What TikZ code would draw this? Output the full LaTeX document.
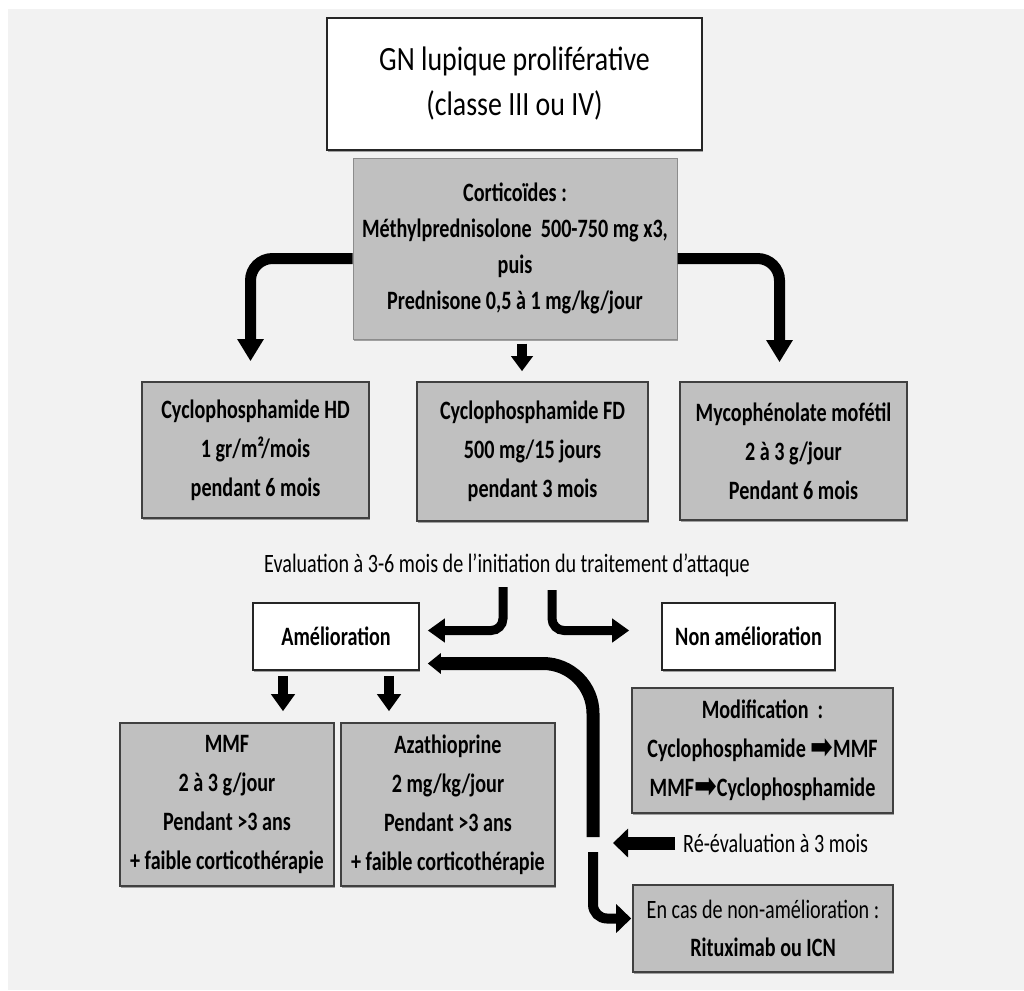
\documentclass[tikz,border=0pt]{standalone}
\usepackage{fontspec}
\setmainfont{Carlito}[FakeStretch=0.76]
\newfontfamily\topfont{Carlito}[FakeStretch=0.82]
\newfontfamily\djv{DejaVu Sans}[FakeStretch=0.8]
\usetikzlibrary{arrows.meta,shadows}
\definecolor{bg}{HTML}{F2F2F2}
\definecolor{boxgray}{HTML}{C0C0C0}
\newcommand{\bigarr}{{\djv\fontsize{34}{34}\selectfont\raisebox{-1pt}{➡}}}
\begin{document}
\begin{tikzpicture}[x=1pt,y=-1pt,
  shd/.style={drop shadow={shadow xshift=0.6pt, shadow yshift=-1.6pt, fill=black!45, opacity=0.8}},
  wbox/.style={draw=black!85, line width=1.6pt, fill=white, inner sep=0pt, align=center, shd},
  gbox/.style={draw=black!75, line width=1.6pt, fill=boxgray, inner sep=0pt, align=center, shd,
               font=\bfseries\fontsize{26.5}{39}\selectfont},
  plain/.style={inner sep=0pt, font=\fontsize{26.5}{30}\selectfont},
  fat/.style={line width=#1, draw=black},
  tipL/.style={-{Triangle[width=25pt,length=22pt]}},
  tipS/.style={-{Triangle[width=21pt,length=15pt]}},
  tipM/.style={-{Triangle[width=23pt,length=17pt]}},
  tipR/.style={-{Triangle[width=20pt,length=13pt]}},
  tipB/.style={-{Triangle[width=28pt,length=15pt]}}
]
\useasboundingbox (0,0) rectangle (1024,990);
\fill[white] (0,0) rectangle (1024,990);
\fill[bg] (8,9) rectangle (1024,990);

% nodes
\node[wbox, minimum width=375pt, minimum height=132pt,
      font=\topfont\fontsize{34}{45}\selectfont] (top) at (514.5,84)
  {GN lupique proliférative\\(classe III ou IV)};
\node[gbox, draw=black!45, line width=1pt, minimum width=324pt, minimum height=181pt,
      font=\bfseries\fontsize{26.5}{36}\selectfont] (cortico) at (515,248.5)
  {Corticoïdes :\\Méthylprednisolone~ 500-750 mg x3,\\puis\\Prednisone 0,5 à 1 mg/kg/jour};
\node[gbox, minimum width=227pt, minimum height=136pt] (hd) at (255.5,450)
  {Cyclophosphamide HD\\1 gr/m²/mois\\pendant 6 mois};
\node[gbox, minimum width=231pt, minimum height=139pt] (fd) at (532.5,451.5)
  {Cyclophosphamide FD\\500 mg/15 jours\\pendant 3 mois};
\node[gbox, minimum width=227pt, minimum height=138pt] (myco) at (793.5,451)
  {Mycophénolate mofétil\\2 à 3 g/jour\\Pendant 6 mois};
\node[plain] (eval) at (507,565)
  {Evaluation à 3-6 mois de l’initiation du traitement d’attaque};
\node[wbox, minimum width=166pt, minimum height=67pt,
      font=\bfseries\fontsize{26.5}{30}\selectfont] (amel) at (336,636.5) {Amélioration};
\node[wbox, minimum width=173pt, minimum height=67pt,
      font=\bfseries\fontsize{26.5}{30}\selectfont] (nonamel) at (748.5,636.5) {Non amélioration};
\node[gbox, minimum width=214pt, minimum height=163pt] (mmf) at (227,804.5)
  {MMF\\2 à 3 g/jour\\Pendant >3 ans\\+ faible corticothérapie};
\node[gbox, minimum width=214pt, minimum height=163pt] (aza) at (448,804.5)
  {Azathioprine\\2 mg/kg/jour\\Pendant >3 ans\\+ faible corticothérapie};
\node[gbox, minimum width=261pt, minimum height=125pt] (modif) at (762.5,750.5)
  {Modification~ :\\Cyclophosphamide \bigarr MMF\\MMF\bigarr Cyclophosphamide};
\node[plain, anchor=west] (reeval) at (683,843) {Ré-évaluation à 3 mois};
\node[gbox, minimum width=260pt, minimum height=87pt,
      font=\fontsize{26.5}{38}\selectfont] (encas) at (763,928.5)
  {En cas de non-amélioration :\\\textbf{Rituximab ou ICN}};

\coordinate (j) at (593,843);

% connectors
\draw[fat=11pt, rounded corners=22pt, tipL]
  ([yshift=-10pt]cortico.west) -| ([xshift=-5pt,yshift=20pt]hd.north);
\draw[fat=11pt, rounded corners=22pt, tipL]
  ([yshift=-10pt]cortico.east) -| ([xshift=-14pt,yshift=19pt]myco.north);
\coordinate (m1) at ([xshift=7pt,yshift=-4pt]cortico.south);
\draw[fat=10pt, tipS, shorten >=10pt] (m1) -- (m1 |- fd.north);

\draw[fat=9pt, rounded corners=12pt, tipM]
  ([xshift=-4pt,yshift=-22pt]eval.center) |- ([xshift=8pt,yshift=6pt]amel.east);
\draw[fat=9pt, rounded corners=12pt, tipM]
  ([xshift=45pt,yshift=-25pt]eval.center) |- ([xshift=-32pt,yshift=6pt]nonamel.west);

\coordinate (a1) at ([xshift=-53pt,yshift=-5pt]amel.south);
\coordinate (a2) at ([xshift=53pt,yshift=-5pt]amel.south);
\draw[fat=10pt, tipM, shorten >=11pt] (a1) -- (a1 |- mmf.north);
\draw[fat=10pt, tipM, shorten >=11pt] (a2) -- (a2 |- aza.north);

\draw[fat=13pt, rounded corners=50pt, tipR]
  ([yshift=6pt]j) |- ([xshift=8pt,yshift=-27pt]amel.east);
\draw[fat=10pt, rounded corners=14pt, tipB]
  ([yshift=-9pt]j) |- ([xshift=-1pt,yshift=10pt]encas.west);
\draw[fat=13pt, tipB] ([xshift=-8pt]reeval.west) -- ([xshift=20pt]j);
\end{tikzpicture}
\end{document}
